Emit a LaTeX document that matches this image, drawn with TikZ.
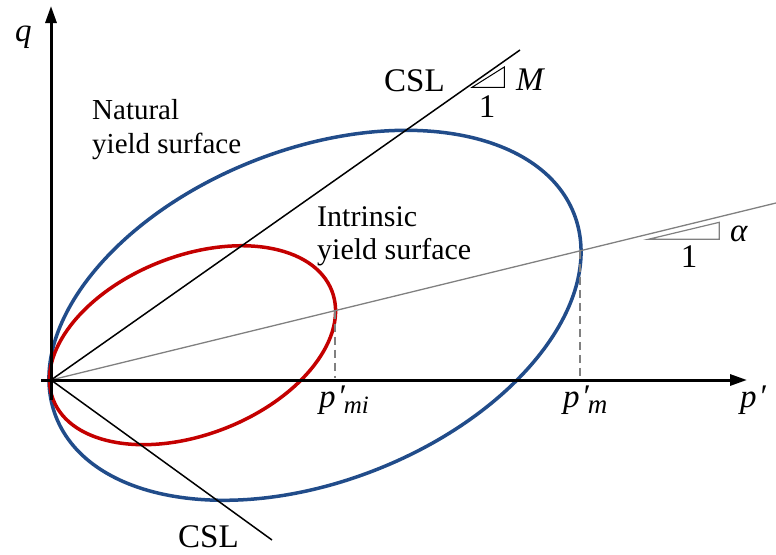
\documentclass[tikz,border=0pt]{standalone}
\usepackage{fontspec}
\setmainfont{Liberation Serif}
\usetikzlibrary{arrows.meta}
\definecolor{nblue}{RGB}{33,76,138}
\definecolor{ired}{RGB}{196,0,0}
\definecolor{lgray}{RGB}{128,128,128}
\newcommand{\pprime}{′}
\begin{document}
\begin{tikzpicture}[x=1pt,y=1pt,
  axis/.style={line width=3pt,-{Triangle[length=17pt,width=11pt]}},
  csl/.style={line width=1.5pt,black},
  grayline/.style={line width=1.3pt,lgray},
  dropline/.style={line width=1.2pt,lgray,dash pattern=on 8pt off 5pt},
  surf/.style={line width=3.5pt},
  lbl/.style={inner sep=0pt,font=\fontsize{33}{40}\selectfont},
  txt/.style={inner sep=0pt,align=left,anchor=base west}]
\useasboundingbox (0,0) rectangle (776,-554);
\coordinate (O) at (51,-380);
\coordinate (qbot) at (51,-400);
\coordinate (qtop) at (51,-6);
\coordinate (pleft) at (41,-380);
\coordinate (pright) at (747,-380);
\coordinate (cslA) at (520,-50);
\coordinate (cslB) at (272,-540);
\coordinate (gEnd) at (776,-203);
\coordinate (Pmi) at (335,-310.7);
\coordinate (Pmi0) at (335,-378);
\coordinate (Pm) at (580,-250.8);
\coordinate (Pm0) at (580,-378);
% surfaces
\draw[surf,nblue,rotate around={21.4:(315,-315.3)}] (315,-315.3) ellipse [x radius=278.2,y radius=166.1];
\draw[surf,ired,rotate around={21.4:(192.5,-345.2)}] (192.5,-345.2) ellipse [x radius=149.6,y radius=89.3];
% lines
\draw[grayline] (O) -- (gEnd);
\draw[dropline] (Pmi) -- (Pmi0);
\draw[dropline] (Pm) -- (Pm0);
\draw[csl] (O) -- (cslA);
\draw[csl] (O) -- (cslB);
\draw[axis] (qbot) -- (qtop);
\draw[axis] (pleft) -- (pright);
% slope triangles
\draw[line width=1pt,black] (472,-87.3) -- (504.3,-87.3) -- (504.3,-67) -- cycle;
\draw[line width=1.2pt,lgray] (648.3,-239.3) -- (719.3,-239.3) -- (719.3,-222.3) -- cycle;
% labels
\node[lbl,anchor=base west] (cslupper) at (384,-91.7) {CSL};
\node[lbl,anchor=base west] (cslower) at (178,-547) {CSL};
\node[lbl,anchor=base west] (Mlab) at (516,-90) {\itshape M};
\node[lbl,anchor=base] (oneM) at (487,-117.3) {1};
\node[lbl,anchor=base] (oneA) at (689,-267) {1};
\node[lbl,anchor=base west] (alab) at (730,-241.7) {\itshape α};
\node[lbl,anchor=base west] (qlab) at (15,-41) {\itshape q};
\node[lbl,anchor=base west] (pmilab) at (319,-407) {\itshape p\kern2pt\pprime\kern-1pt\raisebox{-6pt}{\fontsize{25}{30}\selectfont mi}};
\node[lbl,anchor=base west] (pmlab) at (563,-407) {\itshape p\kern2pt\pprime\kern-1pt\raisebox{-6pt}{\fontsize{27}{30}\selectfont m}};
\node[lbl,anchor=base west] (plab) at (740,-407) {\itshape p\kern2pt\pprime};
\node[txt,font=\fontsize{29}{34}\selectfont] (nat) at (92,-153.3) {Natural\\yield surface};
\node[txt,font=\fontsize{30}{33}\selectfont] (intr) at (317,-259.7) {Intrinsic\\yield surface};
\end{tikzpicture}
\end{document}
